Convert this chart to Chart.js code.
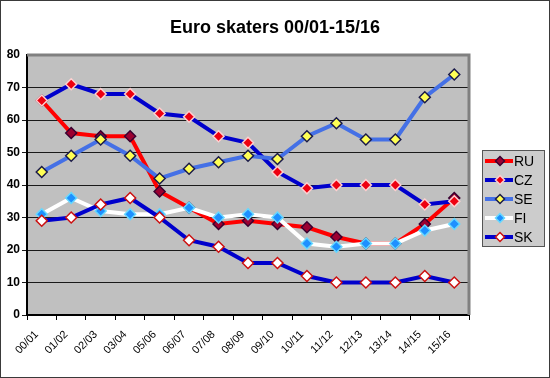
<!DOCTYPE html>
<html>
<head>
<meta charset="utf-8">
<script src="https://cdn.jsdelivr.net/npm/chart.js@4/dist/chart.umd.min.js"></script>
<style>
  html, body { margin: 0; padding: 0; background: #fff; }
  #wrap { width: 550px; height: 378px; box-sizing: border-box; border: 1px solid #3a3a3a; }
  canvas { display: block; }
</style>
</head>
<body>
<div id="wrap"><canvas id="chart" width="548" height="376"></canvas></div>
<script>
// seasons on the x axis
const seasons = ['00/01', '01/02', '02/03', '03/04', '05/06', '06/07', '07/08', '08/09',
                 '09/10', '10/11', '11/12', '12/13', '13/14', '14/15', '15/16'];

// values per country
const ruValues = [66, 56, 55, 55, 38, 33, 28, 29, 28, 27, 24, 22, 22, 28, 36];
const czValues = [66, 71, 68, 68, 62, 61, 55, 53, 44, 39, 40, 40, 40, 34, 35];
const seValues = [44, 49, 54, 49, 42, 45, 47, 49, 48, 55, 59, 54, 54, 67, 74];
const fiValues = [31, 36, 32, 31, 31, 33, 30, 31, 30, 22, 21, 22, 22, 26, 28];
const skValues = [29, 30, 34, 36, 30, 23, 21, 16, 16, 12, 10, 10, 10, 12, 10];

const yTicks = [0, 10, 20, 30, 40, 50, 60, 70, 80];

const FONT = '"Liberation Sans", Arial, sans-serif';

// one small helper so every series looks the same way
function series(label, data, line, fill, edge, order) {
    return {
        label: label,
        data: data,
        borderColor: line,
        borderWidth: 4,
        tension: 0,
        pointStyle: 'rectRot',
        pointRadius: 5.5,
        pointBorderWidth: 1.5,
        pointBackgroundColor: fill,
        pointBorderColor: edge,
        order: order
    };
}

// grey plot area + frame on top / right (like the old excel chart)
const plotArea = {
    id: 'plotArea',
    beforeDraw(chart) {
        const a = chart.chartArea, ctx = chart.ctx;
        ctx.save();
        ctx.fillStyle = '#c0c0c0';
        ctx.fillRect(a.left, a.top, a.right - a.left, a.bottom - a.top);
        ctx.restore();
    },
    beforeDatasetsDraw(chart) {
        const a = chart.chartArea, ctx = chart.ctx;
        ctx.save();
        ctx.strokeStyle = '#808080';
        ctx.lineWidth = 3;
        ctx.beginPath();
        ctx.moveTo(a.left, a.top);
        ctx.lineTo(a.right, a.top);
        ctx.lineTo(a.right, a.bottom);
        ctx.stroke();
        ctx.restore();
    }
};

// legend box on the right: line sample + diamond + name
const sideLegend = {
    id: 'sideLegend',
    afterDraw(chart) {
        const ctx = chart.ctx;
        const a = chart.chartArea;
        const x0 = a.right + 13, x1 = chart.width - 4;
        const top = 149, rowH = 19;
        ctx.save();
        ctx.fillStyle = '#cccccc';
        ctx.fillRect(x0, top, x1 - x0, 97);
        ctx.strokeStyle = '#555';
        ctx.lineWidth = 1;
        ctx.strokeRect(x0 + 0.5, top + 0.5, x1 - x0 - 1, 96);
        chart.data.datasets.forEach((ds, i) => {
            const y = top + 11 + i * rowH;
            ctx.strokeStyle = ds.borderColor;
            ctx.lineWidth = 4;
            ctx.beginPath();
            ctx.moveTo(x0 + 3, y);
            ctx.lineTo(x0 + 31, y);
            ctx.stroke();
            const r = 4.5;
            const cx = x0 + 18;
            ctx.beginPath();
            ctx.moveTo(cx, y - r);
            ctx.lineTo(cx + r, y);
            ctx.lineTo(cx, y + r);
            ctx.lineTo(cx - r, y);
            ctx.closePath();
            ctx.fillStyle = ds.pointBackgroundColor;
            ctx.fill();
            ctx.lineWidth = 1.5;
            ctx.strokeStyle = ds.pointBorderColor;
            ctx.stroke();
            ctx.fillStyle = '#000';
            ctx.font = '14px ' + FONT;
            ctx.textBaseline = 'middle';
            ctx.fillText(ds.label, x0 + 32, y + 1);
        });
        ctx.restore();
    }
};

const ctx = document.getElementById('chart').getContext('2d');
const chart = new Chart(ctx, {
    type: 'line',
    data: {
        labels: seasons,
        datasets: [
            series('RU', ruValues, '#ff0000', '#9c0030', '#3a0030', 5),
            series('CZ', czValues, '#0000cc', '#ee0010', '#ffd0d0', 4),
            series('SE', seValues, '#4470e6', '#ffff55', '#1a1a4a', 3),
            series('FI', fiValues, '#ffffff', '#1e90ff', '#66d8ff', 2),
            series('SK', skValues, '#0000cc', '#ffffff', '#cc1010', 1)
        ]
    },
    options: {
        responsive: false,
        animation: false,
        layout: { padding: 0 },
        plugins: {
            legend: { display: false },
            tooltip: { enabled: false },
            title: {
                display: true,
                text: 'Euro skaters 00/01-15/16',
                color: '#000',
                font: { family: FONT, size: 18, weight: 'bold', lineHeight: 1.2 },
                padding: { top: 16, bottom: 16.4 }
            }
        },
        scales: {
            x: {
                offset: true,
                grid: { offset: true, drawOnChartArea: false, tickLength: 5, color: '#000' },
                border: { color: '#000', width: 2 },
                ticks: {
                    color: '#000',
                    minRotation: 45,
                    maxRotation: 45,
                    padding: 8,
                    labelOffset: -5,
                    font: { family: FONT, size: 11 }
                },
                afterFit(scale) { scale.height = 62; }
            },
            y: {
                min: 0,
                max: 80,
                afterBuildTicks(scale) { scale.ticks = yTicks.map(v => ({ value: v })); },
                grid: {
                    tickLength: 5,
                    lineWidth: 1,
                    color: c => (c.tick && c.tick.value === 80) ? 'rgba(0,0,0,0)' : '#1a1a1a'
                },
                border: { color: '#000', width: 2 },
                ticks: {
                    color: '#000',
                    padding: 2,
                    font: { family: FONT, size: 12, weight: 'bold' }
                },
                afterFit(scale) { scale.width = 26; }
            },
            // empty right-hand strip that leaves room for the legend box
            side: {
                position: 'right',
                display: true,
                grid: { display: false },
                border: { display: false },
                ticks: { display: false },
                afterFit(scale) { scale.width = 80; }
            }
        }
    },
    plugins: [plotArea, sideLegend]
});
</script>
</body>
</html>
